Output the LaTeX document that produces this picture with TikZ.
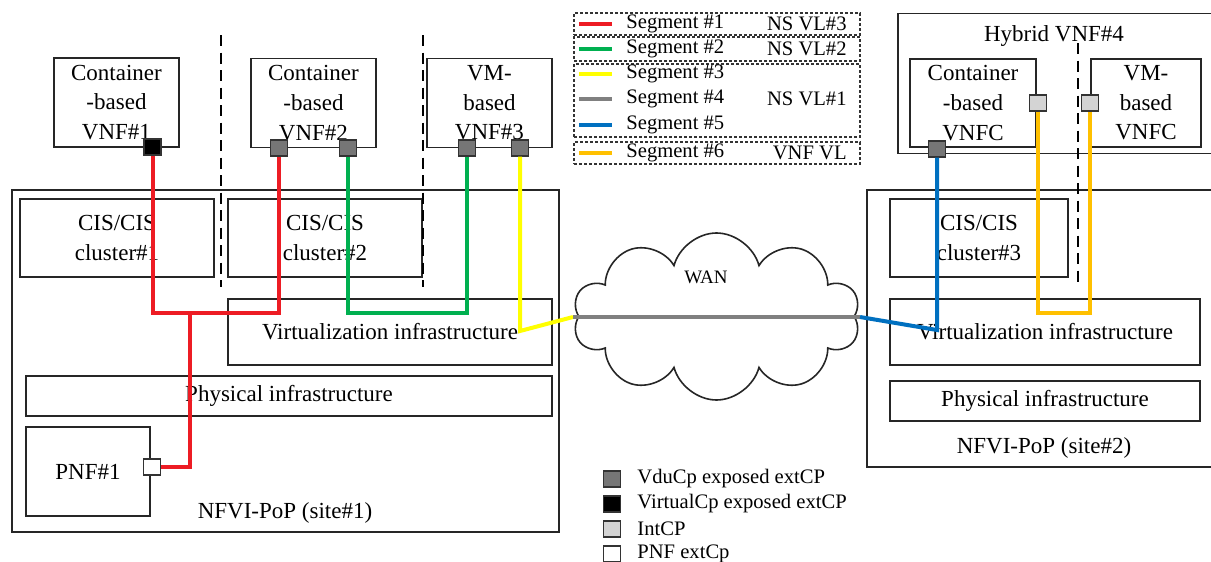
\documentclass[tikz,border=0pt]{standalone}
\usepackage{fontspec}
\setmainfont{Liberation Serif}
\usetikzlibrary{shapes.symbols,calc}
\definecolor{SegRed}{RGB}{237,28,36}
\definecolor{SegGreen}{RGB}{0,176,80}
\definecolor{SegYellow}{RGB}{255,255,0}
\definecolor{SegGray}{RGB}{128,128,128}
\definecolor{SegBlue}{RGB}{0,112,192}
\definecolor{SegGold}{RGB}{255,192,0}
\definecolor{CpDark}{RGB}{118,118,118}
\definecolor{CpLight}{RGB}{212,212,212}
\tikzset{
  boxn/.style={draw=black!85,line width=0.8pt,inner sep=0pt,align=center,
    font=\fontsize{11.5}{14.8}\selectfont},
  labn/.style={inner sep=0pt,font=\fontsize{11.5}{14.8}\selectfont},
  cpn/.style={draw=black!80,line width=0.6pt,minimum width=8.5pt,minimum height=8pt,inner sep=0pt},
  divider/.style={draw=black,line width=1.3pt,dash pattern=on 5.5pt off 3.25pt},
  legframe/.style={draw=black!80,line width=0.6pt,dash pattern=on 1.5pt off 1pt,inner sep=0pt},
  legtext/.style={inner sep=0pt,font=\fontsize{10.3}{12}\selectfont},
  segline/.style={line width=2pt},
}
\begin{document}
\begin{tikzpicture}[x=0.5pt,y=-0.5pt]
  \useasboundingbox (0,0) rectangle (1211,562);
  % site 1
  \node[boxn,minimum width=273.5pt,minimum height=171pt] (site1) at (285.5,361) {};
  \node[boxn,minimum width=97pt,minimum height=39pt] (cis1) at (117,238) {CIS/CIS\\cluster\#1};
  \node[boxn,minimum width=97pt,minimum height=39pt] (cis2) at (325,238) {CIS/CIS\\cluster\#2};
  \node[boxn,minimum width=162pt,minimum height=33pt] (virt1) at (390,332) {Virtualization infrastructure};
  \node[boxn,minimum width=263pt,minimum height=20pt] (phys1) at (289,396) {Physical infrastructure};
  \node[boxn,minimum width=62pt,minimum height=44.5pt] (pnf) at (88,471.5) {PNF\#1};
  \node[labn] (site1txt) at (285,513) {NFVI-PoP (site\#1)};
  % site 2
  \node[boxn,minimum width=174pt,minimum height=138.5pt] (site2) at (1041,328.5) {};
  \node[boxn,minimum width=89pt,minimum height=39pt] (cis3) at (979,238) {CIS/CIS\\cluster\#3};
  \node[boxn,minimum width=155pt,minimum height=33pt] (virt2) at (1045,332) {Virtualization infrastructure};
  \node[boxn,minimum width=155pt,minimum height=20pt] (phys2) at (1045,401) {Physical infrastructure};
  \node[labn] (site2txt) at (1044,448) {NFVI-PoP (site\#2)};
  % VNFs
  \node[boxn,minimum width=62.5pt,minimum height=44.5pt] (vnf1) at (116.5,102.5) {Container\\-based\\VNF\#1};
  \node[boxn,minimum width=62.5pt,minimum height=44.5pt] (vnf2) at (313.5,103) {Container\\-based\\VNF\#2};
  \node[boxn,minimum width=62.5pt,minimum height=44.5pt] (vnf3) at (489.5,103) {VM-\\based\\VNF\#3};
  \node[boxn,minimum width=158.5pt,minimum height=70pt] (vnf4) at (1056.5,83.5) {};
  \node[labn] (vnf4txt) at (1054,36) {Hybrid VNF\#4};
  \node[boxn,minimum width=63pt,minimum height=44pt] (vnfcA) at (973,103) {Container\\-based\\VNFC};
  \node[boxn,minimum width=55pt,minimum height=44pt] (vnfcB) at (1146,103) {VM-\\based\\VNFC};
  % dividers
  \foreach \i/\x/\y in {1/221/35,2/423/35,3/1078/43} {
    \coordinate (dt\i) at (\x,\y);
    \coordinate (db\i) at (\x,287);
    \draw[divider] (dt\i) -- (db\i);
  }
  % WAN
  \node[cloud,draw=black!85,line width=0.8pt,cloud puffs=10,aspect=1.8,
    minimum width=143.5pt,minimum height=83.5pt,inner sep=0pt] (wan) at (716.5,316.5) {};
  \node[labn,font=\fontsize{9.5}{11}\selectfont] (wantxt) at (706,277) {WAN};
  % connection points
  \node[cpn,fill=black] (cp1) at (152.5,147) {};
  \node[cpn,fill=CpDark] (cp2a) at (279,148) {};
  \node[cpn,fill=CpDark] (cp2b) at (348,148) {};
  \node[cpn,fill=CpDark] (cp3a) at (467,148) {};
  \node[cpn,fill=CpDark] (cp3b) at (520,148) {};
  \node[cpn,fill=CpDark] (cp4) at (937,149) {};
  \node[cpn,fill=CpLight] (icp1) at (1038,103) {};
  \node[cpn,fill=CpLight] (icp2) at (1090,103) {};
  \node[cpn,fill=white] (pnfcp) at (152,467) {};
  % segments
  \coordinate (rj) at (190,313);
  \coordinate (gj) at (400,313);
  \coordinate (yj) at (520,331);
  \coordinate (wl) at (573,317);
  \coordinate (wr) at (860,317);
  \coordinate (bj) at (937,330);
  \coordinate (oj) at (1064,313);
  \draw[segline,SegRed] (cp1.south) |- (rj) -| (cp2a.south);
  \draw[segline,SegRed] (rj) |- (pnfcp.east);
  \draw[segline,SegGreen] (cp2b.south) |- (gj) -| (cp3a.south);
  \draw[segline,SegYellow] (cp3b.south) -- (yj) -- (wl);
  \draw[segline,SegGray] (wl) -- (wr);
  \draw[segline,SegBlue] (wr) -- (bj) -- (cp4.south);
  \draw[segline,SegGold] (icp1.south) |- (oj) -| (icp2.south);
  % legend of segments
  \node[legframe,minimum width=143pt,minimum height=11pt] (lg1) at (717,24) {};
  \node[legframe,minimum width=143pt,minimum height=12pt] (lg2) at (717,49) {};
  \node[legframe,minimum width=143pt,minimum height=36.5pt] (lg3) at (717,100.5) {};
  \node[legframe,minimum width=143pt,minimum height=11pt] (lg4) at (717,153) {};
  \foreach \k/\y/\c in {1/24/SegRed,2/49/SegGreen,3/74/SegYellow,4/99/SegGray,5/125/SegBlue,6/153/SegGold} {
    \coordinate (ls\k) at (579,\y);
    \coordinate (le\k) at (612,\y);
    \draw[segline,\c] (ls\k) -- (le\k);
    \node[legtext,anchor=west] (st\k) at (626,\y) {Segment \#\k};
  }
  \node[legtext,anchor=east] (vl1) at (847,24) {NS VL\#3};
  \node[legtext,anchor=east] (vl2) at (847,49) {NS VL\#2};
  \node[legtext,anchor=east] (vl3) at (847,99) {NS VL\#1};
  \node[legtext,anchor=east] (vl4) at (847,153) {VNF VL};
  % legend of connection points
  \foreach \k/\y/\c/\t in {1/479/CpDark/VduCp exposed extCP,2/504/black/VirtualCp exposed extCP,3/529/CpLight/IntCP,4/554/white/PNF extCp} {
    \node[cpn,fill=\c] (key\k) at (612,\y) {};
    \node[legtext,anchor=west] (keytxt\k) at (637,\y) {\t};
  }
\end{tikzpicture}
\end{document}
